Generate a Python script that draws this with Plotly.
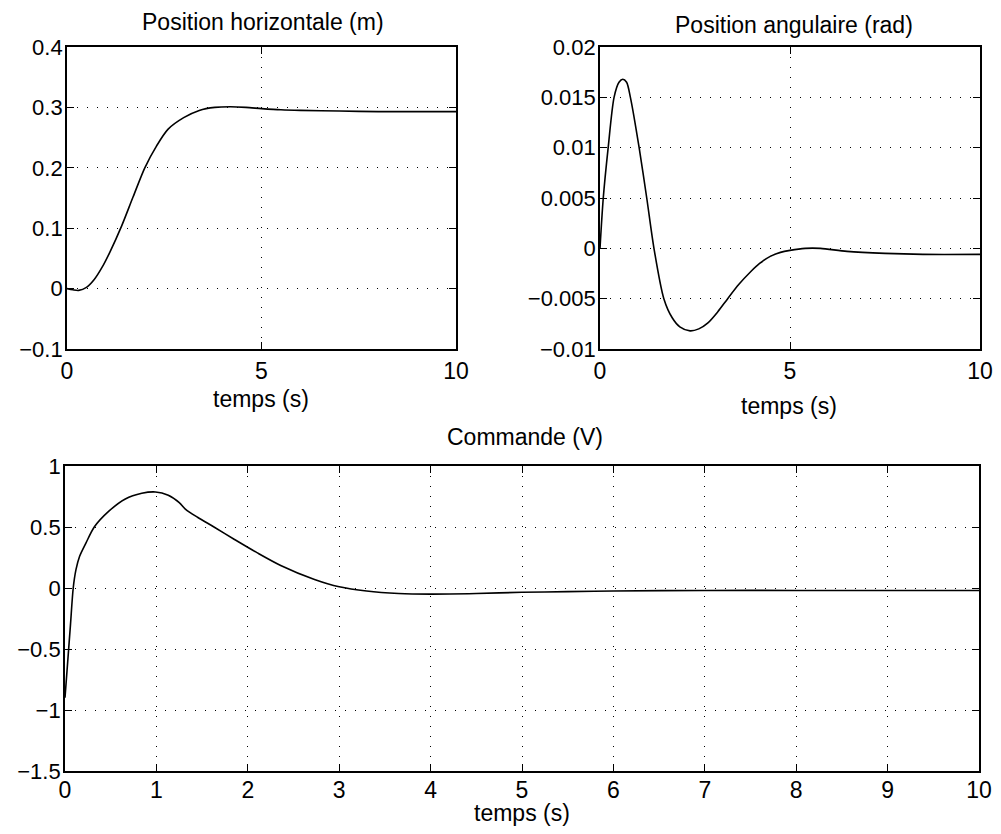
import plotly.graph_objects as go

# ---- Data ----
t_pos = [0, 0.15, 0.3, 0.5, 0.7, 0.9, 1.1, 1.4, 1.7, 2.0, 2.3, 2.6, 3.0, 3.4, 3.8, 4.2,
         4.6, 5.0, 5.5, 6.0, 7.0, 8.0, 9.0, 10.0]
pos_h = [0, -0.002, -0.003, 0.002, 0.015, 0.035, 0.06, 0.103, 0.152, 0.2, 0.236, 0.264,
         0.283, 0.295, 0.3, 0.301, 0.3, 0.298, 0.296, 0.295, 0.294, 0.293, 0.293, 0.293]

t_ang = [0, 0.086, 0.215, 0.37, 0.5, 0.6, 0.7, 0.8, 1.03, 1.23, 1.42, 1.68, 1.9, 2.1,
         2.37, 2.6, 2.84, 3.1, 3.36, 3.65, 3.97, 4.2, 4.48, 4.75, 5.0, 5.4, 5.8, 6.5,
         7.5, 8.5, 10.0]
pos_a = [0, 0.005, 0.01, 0.015, 0.0165, 0.0168, 0.0165, 0.015, 0.01, 0.005, 0, -0.005,
         -0.0069, -0.0078, -0.0082, -0.008, -0.0074, -0.0063, -0.005, -0.0036, -0.0023,
         -0.0015, -0.0008, -0.0004, -0.0002, 0.0, 0.0, -0.0003, -0.0005, -0.0006, -0.0006]

t_cmd = [0, 0.03, 0.06, 0.09, 0.12, 0.16, 0.23, 0.32, 0.48, 0.66, 0.84, 0.99, 1.13, 1.25,
         1.32, 1.45, 1.63, 1.85, 2.1, 2.36, 2.73, 3.0, 3.3, 3.65, 4.0, 4.5, 5.0, 5.5, 6.0,
         7.0, 8.0, 9.0, 10.0]
cmd = [-0.9, -0.6, -0.3, 0.0, 0.15, 0.26, 0.37, 0.5, 0.63, 0.73, 0.776, 0.787, 0.76, 0.70,
       0.645, 0.58, 0.5, 0.40, 0.29, 0.185, 0.07, 0.01, -0.025, -0.045, -0.05, -0.045,
       -0.035, -0.03, -0.025, -0.02, -0.02, -0.02, -0.02]

x_ticks_top = [0, 5, 10]
x_ticks_bot = [0, 1, 2, 3, 4, 5, 6, 7, 8, 9, 10]
y1_ticks = [-0.1, 0, 0.1, 0.2, 0.3, 0.4]
y1_text = ["−0.1", "0", "0.1", "0.2", "0.3", "0.4"]
y2_ticks = [-0.01, -0.005, 0, 0.005, 0.01, 0.015, 0.02]
y2_text = ["−0.01", "−0.005", "0", "0.005", "0.01", "0.015", "0.02"]
y3_ticks = [-1.5, -1, -0.5, 0, 0.5, 1]
y3_text = ["−1.5", "−1", "−0.5", "0", "0.5", "1"]

titles = ["Position horizontale (m)", "Position angulaire (rad)", "Commande (V)"]
xlabel = "temps (s)"

# ---- Figure ----
# The page body has an 8px margin, so the figure is drawn 8px in from the window edge.
OFF = 8
W, H = 1001 - 2 * OFF, 834 - 2 * OFF
FONT = "Liberation Sans, Arial, Helvetica, sans-serif"
line = dict(color="black", width=1.6, shape="spline", smoothing=0.8)

fig = go.Figure()
fig.add_trace(go.Scatter(x=t_pos, y=pos_h, mode="lines", line=line, xaxis="x", yaxis="y"))
fig.add_trace(go.Scatter(x=t_ang, y=pos_a, mode="lines", line=line, xaxis="x2", yaxis="y2"))
fig.add_trace(go.Scatter(x=t_cmd, y=cmd, mode="lines", line=line, xaxis="x3", yaxis="y3"))

def px_x(p):
    return (p - OFF) / W

def px_y(p):
    return 1 - (p - OFF) / H

common = dict(showline=True, linecolor="black", linewidth=1.8, mirror="ticks",
              ticks="inside", ticklen=7, tickwidth=1.2, tickcolor="black",
              showgrid=True, gridcolor="black", gridwidth=1, griddash="1px,9px",
              zeroline=False, automargin=False, ticklabeloverflow="allow",
              tickfont=dict(family=FONT, size=22, color="black"))

xcommon = dict(common, tickfont=dict(family=FONT, size=23, color="black"), ticklabelstandoff=0)
ycommon = dict(common, ticklabelstandoff=-2)

top_y = [px_y(349), px_y(47)]
bot_y = [px_y(771), px_y(466)]

fig.update_layout(
    width=W, height=H,
    margin=dict(l=0, r=0, t=0, b=0, autoexpand=False),
    paper_bgcolor="white", plot_bgcolor="white",
    showlegend=False,
    font=dict(family=FONT, color="black"),
    xaxis=dict(xcommon, domain=[px_x(67), px_x(456)], range=[0, 10],
               tickvals=x_ticks_top, anchor="y"),
    yaxis=dict(ycommon, domain=top_y, range=[-0.1, 0.4],
               tickvals=y1_ticks, ticktext=y1_text, anchor="x"),
    xaxis2=dict(xcommon, domain=[px_x(600), px_x(980)], range=[0, 10],
                tickvals=x_ticks_top, anchor="y2"),
    yaxis2=dict(ycommon, domain=top_y, range=[-0.01, 0.02],
                tickvals=y2_ticks, ticktext=y2_text, anchor="x2"),
    xaxis3=dict(xcommon, domain=[px_x(65), px_x(979)], range=[0, 10],
                tickvals=x_ticks_bot, anchor="y3", ticklabelstandoff=-3),
    yaxis3=dict(ycommon, domain=bot_y, range=[-1.5, 1],
                tickvals=y3_ticks, ticktext=y3_text, anchor="x3"),
)

def label(text, cx, cy, size=23):
    fig.add_annotation(text=text, xref="paper", yref="paper", x=px_x(cx), y=px_y(cy),
                       xanchor="center", yanchor="middle", showarrow=False,
                       font=dict(family=FONT, size=size, color="black"))

label(titles[0], 263, 22)
label(titles[1], 794, 25)
label(titles[2], 525, 437)
label(xlabel, 261, 399)
label(xlabel, 789, 406)
label(xlabel, 522, 813)

fig.write_html("out.html")
